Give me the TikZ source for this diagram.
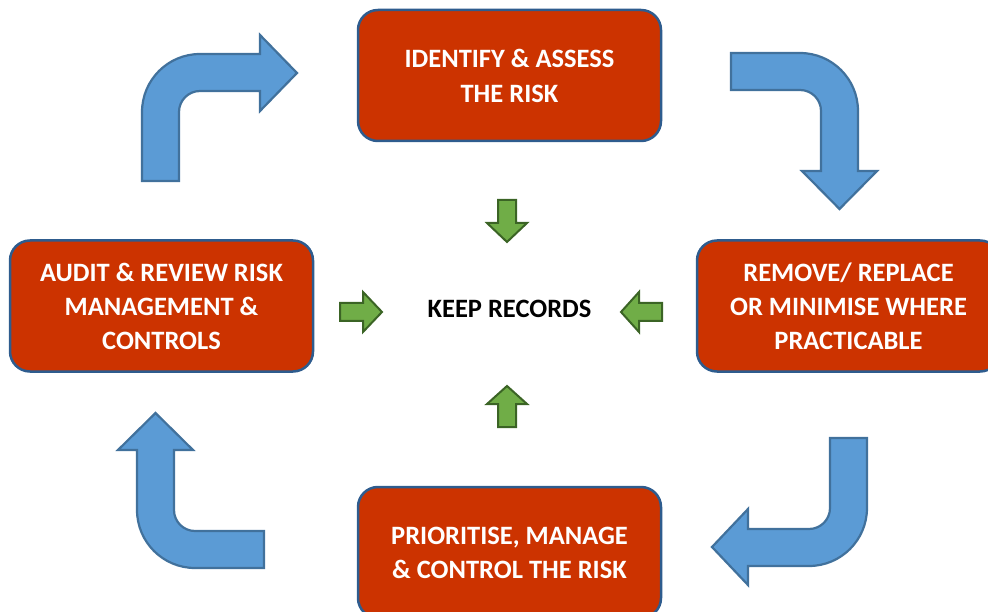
\documentclass[tikz,border=0pt]{standalone}
\usepackage{fontspec}
\setmainfont{Carlito}
\definecolor{boxred}{HTML}{CC3300}
\definecolor{boxedge}{HTML}{2E5C8E}
\definecolor{flowblue}{HTML}{5B9BD5}
\definecolor{flowedge}{HTML}{41719C}
\definecolor{recgreen}{HTML}{70AD47}
\definecolor{recedge}{HTML}{3B6425}
\tikzset{
  stagebox/.style={rectangle, rounded corners=20pt, fill=boxred, draw=boxedge,
    line width=2.5pt, minimum width=303pt, minimum height=131pt,
    text=white, align=center, font=\bfseries\fontsize{26.5}{34}\selectfont},
  flowarrow/.style={fill=flowblue, draw=flowedge, line width=2.2pt, line join=miter},
  recarrow/.style={fill=recgreen, draw=recedge, line width=2pt, line join=miter},
}
\begin{document}
\begin{tikzpicture}[x=1pt, y=-1pt]
\useasboundingbox (0,0) rectangle (988,612);
\clip (0,0) rectangle (988,612);

% process stages
\node[stagebox] (identify) at (509.5,75.5) {IDENTIFY \& ASSESS\\[1pt]THE RISK};
\node[stagebox] (remove) at (848.5,306) {REMOVE/ REPLACE\\OR MINIMISE WHERE\\PRACTICABLE};
\node[stagebox] (prioritise) at (509.5,552.5) {PRIORITISE, MANAGE\\\& CONTROL THE RISK};
\node[stagebox] (audit) at (161.5,306) {AUDIT \& REVIEW RISK\\MANAGEMENT \&\\CONTROLS};
\node[font=\bfseries\fontsize{26.5}{34}\selectfont] (records) at (509.5,309) {KEEP RECORDS};

% bent arrows of the cycle
\draw[flowarrow] (142,181) -- (142,112) arc(180:90:58pt) -- (260,54) -- (260,35)
  -- (297,73) -- (260,111) -- (260,91) -- (200,91) arc(90:180:21pt) -- (179,181) -- cycle;
\draw[flowarrow] (731,53) -- (800,53) arc(90:0:58pt) -- (858,171) -- (877,171)
  -- (839.5,209) -- (802,171) -- (821,171) -- (821,111) arc(0:90:21pt) -- (731,90) -- cycle;
\draw[flowarrow] (830,438) -- (867,438) -- (867,508) arc(0:-90:58pt) -- (748,566) -- (748,585)
  -- (712,547) -- (748,509) -- (748,529) -- (809,529) arc(-90:0:21pt) -- cycle;
\draw[flowarrow] (264,531) -- (195,531) arc(-90:-180:21pt) -- (174,450) -- (193,450)
  -- (155.5,413) -- (118,450) -- (137,450) -- (137,510) arc(180:270:58pt) -- (264,568) -- cycle;

% small arrows pointing at the records
\draw[recarrow] (498,200) -- (516,200) -- (516,223) -- (527,223) -- (507,242) -- (487,223) -- (498,223) -- cycle;
\draw[recarrow] (498,427) -- (516,427) -- (516,404) -- (527,404) -- (507,386) -- (487,404) -- (498,404) -- cycle;
\draw[recarrow] (340,303) -- (363,303) -- (363,292) -- (382,312) -- (363,332) -- (363,321) -- (340,321) -- cycle;
\draw[recarrow] (662,303) -- (639,303) -- (639,292) -- (621,312) -- (639,332) -- (639,321) -- (662,321) -- cycle;
\end{tikzpicture}
\end{document}
